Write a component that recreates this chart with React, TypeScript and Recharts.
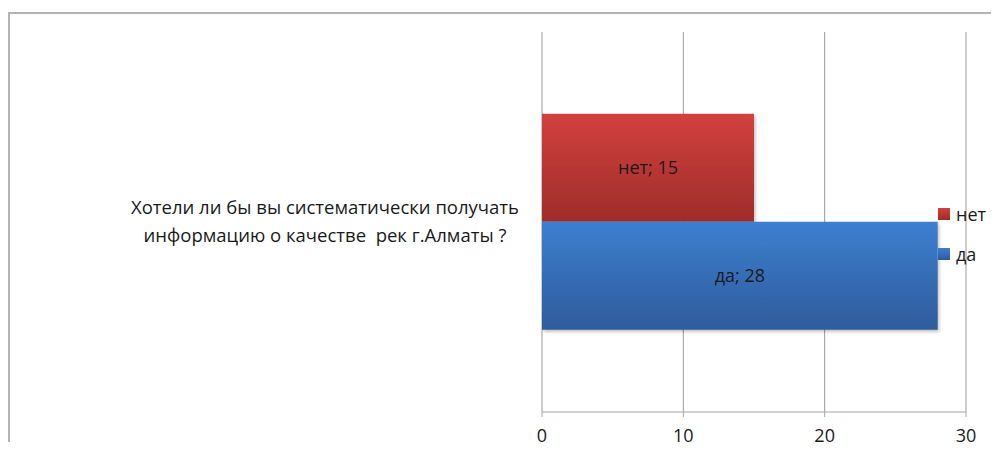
import { Bar, BarChart, CartesianGrid, LabelList, XAxis, YAxis } from "recharts";

// survey question (category), one row per question
const questions = [
  "Хотели ли бы вы систематически получать\nинформацию о качестве  рек г.Алматы ?",
];
const seriesNames = ["нет", "да"];
const noValues = [15];
const yesValues = [28];
const xTicks = [0, 10, 20, 30];

const data = questions.map((q, i) => ({
  q,
  [seriesNames[0]]: noValues[i],
  [seriesNames[1]]: yesValues[i],
}));

const FONT = "'Open Sans', 'Noto Sans', sans-serif";
const TEXT = "#1a1a1a";
const AXIS = "#a6a6a6";

const swatches = [
  ["#d2413e", "#9f2c2a"],
  ["#3d7fd0", "#2e5c9b"],
];
const fills = ["url(#gradNo)", "url(#gradYes)"];

function QuestionTick({ x, y, payload }: any) {
  const lines = String(payload.value).split("\n");
  const cx = x - 209;
  return (
    <text
      x={cx}
      y={y}
      textAnchor="middle"
      fontSize={18.5}
      fontFamily={FONT}
      fill={TEXT}
      style={{ whiteSpace: "pre" }}
    >
      {lines.map((l, i) => (
        <tspan key={i} x={cx} dy={i === 0 ? -(lines.length - 1) * 14 + 6 : 28}>
          {l}
        </tspan>
      ))}
    </text>
  );
}

function LegendBox() {
  return (
    <div
      style={{
        position: "absolute",
        left: 938,
        top: 194,
        fontFamily: FONT,
        fontSize: 18,
        color: TEXT,
      }}
    >
      {seriesNames.map((name, i) => (
        <div
          key={name}
          style={{ display: "flex", alignItems: "center", height: 40, lineHeight: "40px" }}
        >
          <div
            style={{
              width: 12,
              height: 12,
              marginRight: 6,
              background: `linear-gradient(${swatches[i][0]}, ${swatches[i][1]})`,
            }}
          />
          <span>{name}</span>
        </div>
      ))}
    </div>
  );
}

export default function App() {
  return (
    <div
      style={{
        margin: -8,
        width: 999,
        height: 450,
        position: "relative",
        overflow: "hidden",
        background: "#fff",
      }}
    >
      <BarChart
        width={999}
        height={450}
        data={data}
        layout="vertical"
        margin={{ top: 32, right: 33, bottom: 0, left: 0 }}
        barCategoryGap="21.5%"
        barGap={0}
      >
        <defs>
          <linearGradient id="gradNo" x1="0" y1="0" x2="0" y2="1">
            <stop offset="0%" stopColor={swatches[0][0]} />
            <stop offset="100%" stopColor={swatches[0][1]} />
          </linearGradient>
          <linearGradient id="gradYes" x1="0" y1="0" x2="0" y2="1">
            <stop offset="0%" stopColor={swatches[1][0]} />
            <stop offset="100%" stopColor={swatches[1][1]} />
          </linearGradient>
          <filter id="barShadow" x="-5%" y="-5%" width="115%" height="120%">
            <feDropShadow dx="1.5" dy="2" stdDeviation="1.5" floodColor="#000" floodOpacity="0.25" />
          </filter>
        </defs>
        <CartesianGrid horizontal={false} stroke="#9a9a9a" />
        <XAxis
          type="number"
          domain={[0, 30]}
          ticks={xTicks}
          height={38}
          tickSize={5}
          tickMargin={12}
          axisLine={{ stroke: AXIS }}
          tickLine={{ stroke: AXIS }}
          tick={{ fontSize: 18, fontFamily: FONT, fill: TEXT }}
        />
        {/* plain value axis: draws the left axis line with ticks at the band edges */}
        <YAxis
          yAxisId="frame"
          type="number"
          domain={[0, 1]}
          ticks={[0, 1]}
          width={0}
          tick={false}
          tickSize={7}
          axisLine={{ stroke: AXIS }}
          tickLine={{ stroke: AXIS }}
        />
        <YAxis
          dataKey="q"
          type="category"
          width={542}
          axisLine={false}
          tickLine={false}
          tick={<QuestionTick />}
        />
        {seriesNames.map((name, i) => (
          <Bar
            key={name}
            dataKey={name}
            fill={fills[i]}
            filter="url(#barShadow)"
            isAnimationActive={false}
          >
            <LabelList
              dataKey={name}
              position="center"
              formatter={(v: any) => `${name}; ${v}`}
              fill={TEXT}
              fontSize={18}
              fontFamily={FONT}
            />
          </Bar>
        ))}
      </BarChart>
      <LegendBox />
      {/* outer chart-area frame */}
      <div
        style={{
          position: "absolute",
          left: 7,
          top: 12,
          width: 1100,
          height: 600,
          boxSizing: "border-box",
          borderTop: "2px solid #b4b4b4",
          borderLeft: "3px solid #b4b4b4",
          pointerEvents: "none",
        }}
      />
    </div>
  );
}
